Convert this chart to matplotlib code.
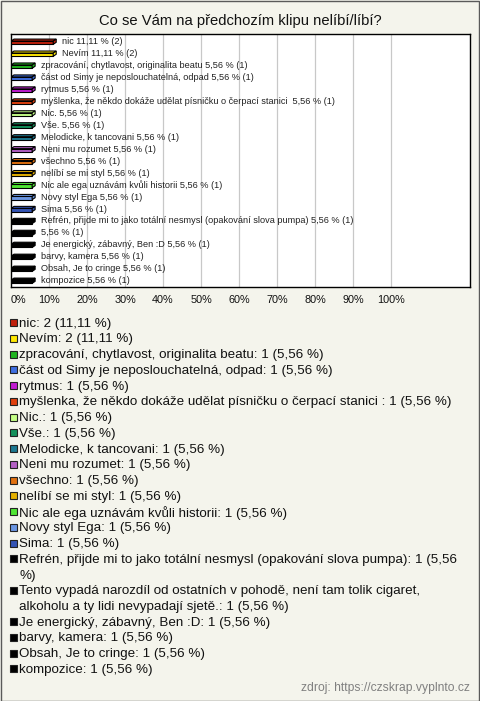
import matplotlib

matplotlib.use("Agg")

import matplotlib.pyplot as plt
from matplotlib.patches import Polygon, Rectangle

plt.rcParams["font.family"] = ["Liberation Sans", "DejaVu Sans"]

TITLE = "Co se Vám na předchozím klipu nelíbí/líbí?"
SOURCE = "zdroj: https://czskrap.vyplnto.cz"

answers = [
    "nic",
    "Nevím",
    "zpracování, chytlavost, originalita beatu",
    "část od Simy je neposlouchatelná, odpad",
    "rytmus",
    "myšlenka, že někdo dokáže udělat písničku o čerpací stanici ",
    "Nic.",
    "Vše.",
    "Melodicke, k tancovani",
    "Neni mu rozumet",
    "všechno",
    "nelíbí se mi styl",
    "Nic ale ega uznávám kvůli historii",
    "Novy styl Ega",
    "Sima",
    "Refrén, přijde mi to jako totální nesmysl (opakování slova pumpa)",
    "Tento vypadá narozdíl od ostatních v pohodě, není tam tolik cigaret, "
    "alkoholu a ty lidi nevypadají sjetě.",
    "Je energický, zábavný, Ben :D",
    "barvy, kamera",
    "Obsah, Je to cringe",
    "kompozice",
]
counts = [2, 2] + [1] * 19
percents = [11.11, 11.11] + [5.56] * 19
colors = [
    "#C0200C", "#FFE800", "#1FB41F", "#3F6FE0", "#C21CD2", "#E0400E",
    "#C4FF86", "#14905A", "#1C7890", "#B460C4", "#E0700E", "#E4B000",
    "#50E634", "#6A96E2", "#3454B4",
    "#000000", "#000000", "#000000", "#000000", "#000000", "#000000",
]
# legend text as wrapped in the reference
legend_breaks = {
    15: ("Refrén, přijde mi to jako totální nesmysl (opakování slova pumpa): 1 (5,56", "%)"),
    16: ("Tento vypadá narozdíl od ostatních v pohodě, není tam tolik cigaret,",
         "alkoholu a ty lidi nevypadají sjetě.: 1 (5,56 %)"),
}
x_ticks = [0, 10, 20, 30, 40, 50, 60, 70, 80, 90, 100]

BG = "#F4F4EC"
W, H = 480, 701


def pct_text(v):
    return f"{v:.2f}".replace(".", ",")


fig = plt.figure(figsize=(W / 100, H / 100), dpi=100, facecolor=BG)
fig.patches.append(Rectangle((0.5 / W, 0.5 / H), 1 - 1.5 / W, 1 - 1.5 / H,
                             transform=fig.transFigure, fill=False,
                             edgecolor="#5A5A5A", lw=1.0))

fig.text(240 / W, 1 - 21 / H, TITLE, ha="center", va="center", fontsize=10.65, color="#111111")

# plot area in pixels: x 11..470, y 34..287
ax = fig.add_axes([11 / W, 1 - 287 / H, 459 / W, 253 / H])
ax.set_facecolor("white")
n = len(answers)
px_x = 10 / 38.0          # percent per pixel
px_y = 1 / 11.95          # rows per pixel
ax.set_xlim(0, 459 * px_x)
ax.set_ylim(n - 1 + 6.3 * px_y, -7.7 * px_y)

for t in x_ticks[1:]:
    ax.axvline(t, color="#C8C8C8", lw=0.9, zorder=0)

dx, dy = 3 * px_x, 2 * px_y
for i, (v, c) in enumerate(zip(percents, colors)):
    ft = i - 0.22 + dy
    fb = i + 0.22
    front = Rectangle((0, ft), v, fb - ft, facecolor=c, edgecolor="black", lw=0.8, zorder=3)
    top = Polygon([(0, ft), (v, ft), (v + dx, ft - dy), (dx, ft - dy)],
                  closed=True, facecolor=c, edgecolor="black", lw=0.8, zorder=3)
    side = Polygon([(v, ft), (v + dx, ft - dy), (v + dx, fb - dy), (v, fb)],
                   closed=True, facecolor=c, edgecolor="black", lw=0.8, zorder=3)
    for p in (front, top, side):
        ax.add_patch(p)
    name = answers[i] if len(answers[i]) < 90 else ""
    label = f"{name} {pct_text(v)} % ({counts[i]})".strip()
    ax.text(v + 8.5 * px_x, i, label, ha="left", va="center", fontsize=6.6,
            color="#222222", zorder=4)

ax.set_yticks([])
ax.set_xticks(x_ticks)
ax.set_xticklabels([f"{t}%" for t in x_ticks], fontsize=7.8, color="#111111")
ax.tick_params(axis="x", length=0, pad=6)
ax.get_xticklabels()[0].set_ha("left")
for s in ax.spines.values():
    s.set_color("black")
    s.set_linewidth(1.0)

# legend below the chart
y0, step = 322.7, 15.74
line = 0
for i, name in enumerate(answers):
    y = y0 + line * step
    fig.patches.append(Rectangle((10 / W, 1 - (y + 3.5) / H), 7 / W, 7 / H,
                                 transform=fig.transFigure, facecolor=colors[i],
                                 edgecolor="#222222", lw=0.8))
    if i in legend_breaks:
        lines = legend_breaks[i]
    else:
        lines = (f"{name}: {counts[i]} ({pct_text(percents[i])} %)",)
    for k, txt in enumerate(lines):
        fig.text(19 / W, 1 - (y + 1 + k * step) / H, txt, ha="left", va="center",
                 fontsize=9.6, color="#111111")
    line += len(lines)

fig.text(470 / W, 1 - 688 / H, SOURCE, ha="right", va="center", fontsize=8.7, color="#808080")

fig.savefig("out.png", dpi=100, facecolor=BG)
